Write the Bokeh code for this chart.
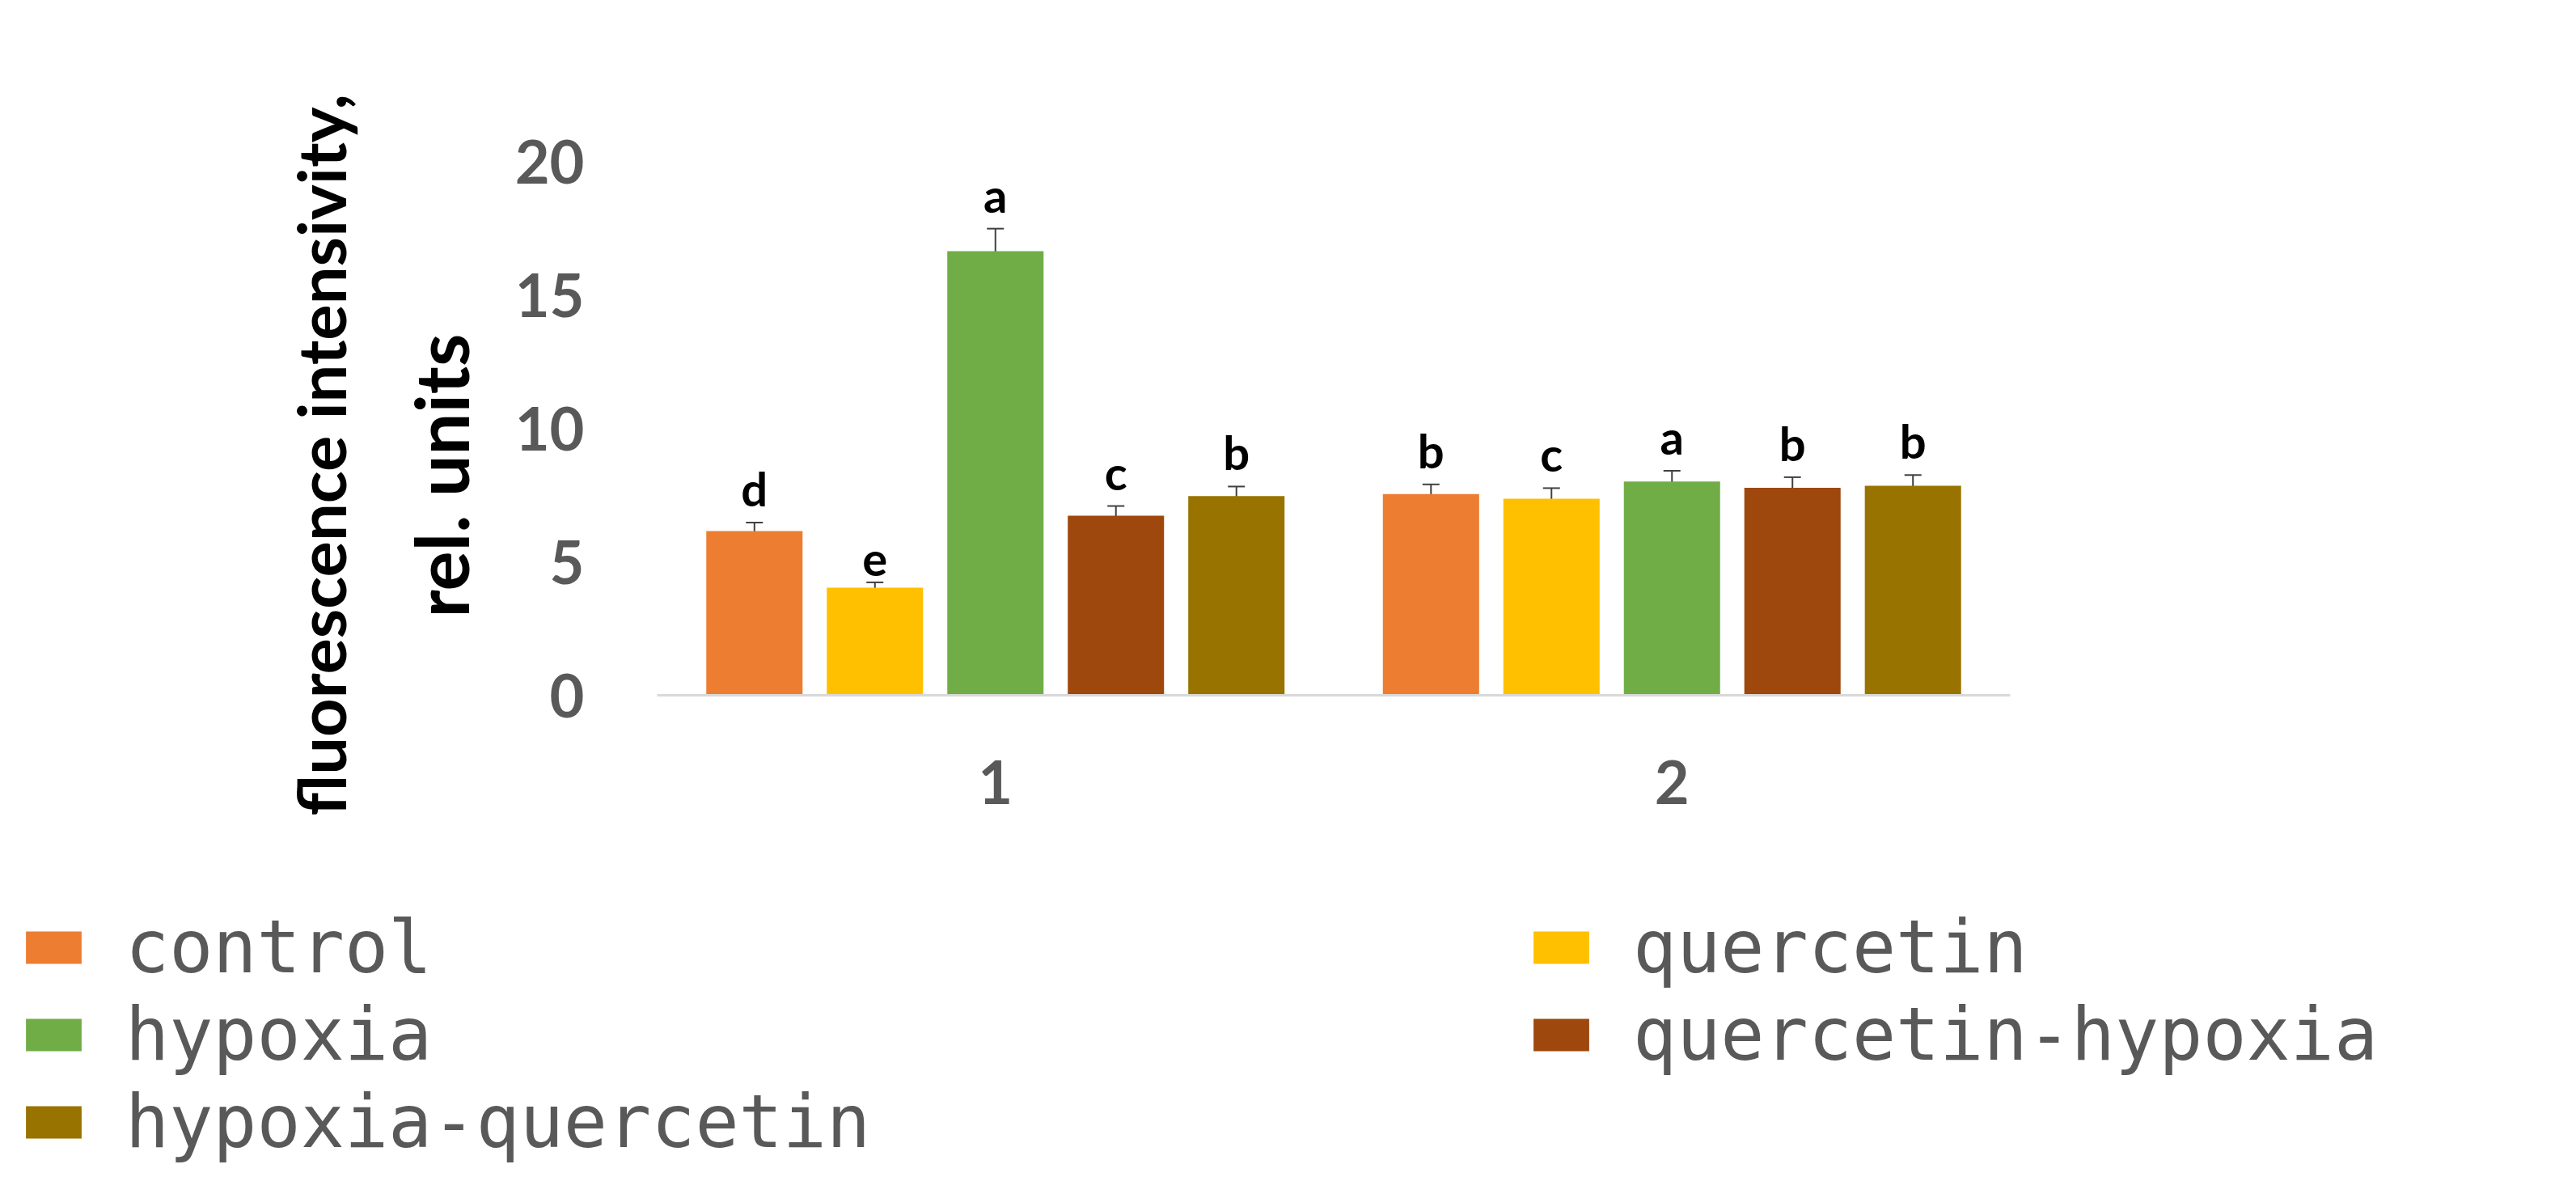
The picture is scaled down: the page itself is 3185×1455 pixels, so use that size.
from bokeh.plotting import figure
from bokeh.models import (ColumnDataSource, FactorRange, Range1d, FixedTicker, Whisker,
                          TeeHead, Legend, LegendItem, Title)
from bokeh.layouts import column, row
from bokeh.transform import dodge
from bokeh.core.properties import value
from bokeh.embed import file_html
from bokeh.resources import INLINE

# ---------------- data ----------------
groups = ["1", "2"]
treatments = ["control", "quercetin", "hypoxia", "quercetin-hypoxia", "hypoxia-quercetin"]
colors = ["#ED7D31", "#FFC000", "#70AD47", "#9E480E", "#997300"]

# values per treatment: [group 1, group 2]
means = {
    "control":           [6.15, 7.54],
    "quercetin":         [4.03, 7.36],
    "hypoxia":           [16.64, 8.01],
    "quercetin-hypoxia": [6.73, 7.77],
    "hypoxia-quercetin": [7.46, 7.85],
}
errors = {
    "control":           [0.32, 0.36],
    "quercetin":         [0.20, 0.40],
    "hypoxia":           [0.84, 0.40],
    "quercetin-hypoxia": [0.36, 0.40],
    "hypoxia-quercetin": [0.36, 0.40],
}
letters = {
    "control":           ["d", "b"],
    "quercetin":         ["e", "c"],
    "hypoxia":           ["a", "a"],
    "quercetin-hypoxia": ["c", "b"],
    "hypoxia-quercetin": ["b", "b"],
}
y_ticks = [0, 5, 10, 15, 20]
y_label_1 = "fluorescence intensivity,"
y_label_2 = "rel. units"

# ---------------- main figure ----------------
W = 3169
H_MAIN, H_LEG = 1080, 359
p = figure(width=W, height=H_MAIN, output_backend="svg", toolbar_location=None,
           x_range=FactorRange(*groups, range_padding=0), y_range=Range1d(0, 20),
           min_border_left=812, min_border_right=684, min_border_top=199, min_border_bottom=221)
p.outline_line_color = None
p.xgrid.grid_line_color = None
p.ygrid.grid_line_color = None

step = 0.1781
bar_w = 0.1423
sources = []
for i, t in enumerate(treatments):
    m = means[t]
    e = errors[t]
    src = ColumnDataSource(dict(
        group=groups,
        val=m,
        upper=[a + b for a, b in zip(m, e)],
        lower=[a - b for a, b in zip(m, e)],
        letter=letters[t],
    ))
    sources.append(src)
    off = (i - 2) * step
    p.vbar(x=dodge("group", off, range=p.x_range), top="val", bottom=0, width=bar_w,
           source=src, fill_color=colors[i], line_color=None)
    w = Whisker(source=src, base=dodge("group", off, range=p.x_range), upper="upper", lower="lower",
                line_color="#404040", line_width=2,
                upper_head=TeeHead(size=21, line_color="#404040", line_width=2),
                lower_head=TeeHead(size=21, line_color="#404040", line_width=2))
    p.add_layout(w)
    p.text(x=dodge("group", off, range=p.x_range), y="upper", text="letter", source=src,
           text_align="center", text_baseline="bottom", y_offset=-8,
           text_font=value("Lato"), text_font_style="bold", text_font_size="58px",
           text_color="black")

# axes
p.yaxis.ticker = FixedTicker(ticks=y_ticks)
p.yaxis.axis_line_color = None
p.yaxis.major_tick_line_color = None
p.yaxis.minor_tick_line_color = None
p.yaxis.major_label_text_font = "Lato"
p.yaxis.major_label_text_font_style = "bold"
p.yaxis.major_label_text_font_size = "74px"
p.yaxis.major_label_text_color = "#595959"
p.yaxis.major_label_standoff = 84

p.xaxis.axis_line_color = "#d9d9d9"
p.xaxis.axis_line_width = 3
p.xaxis.major_tick_line_color = None
p.xaxis.minor_tick_line_color = None
p.xaxis.major_label_text_font = "Lato"
p.xaxis.major_label_text_font_style = "bold"
p.xaxis.major_label_text_font_size = "74px"
p.xaxis.major_label_text_color = "#595959"
p.xaxis.major_label_standoff = 74

# y axis title as two lines (nearest line first); aligned from the bottom of the frame
t2 = Title(text=y_label_2, align="left", offset=96, standoff=68,
           text_font="Lato", text_font_style="bold", text_font_size="92px", text_color="black")
p.add_layout(t2, "left")
t1 = Title(text=y_label_1, align="left", offset=-149, standoff=14,
           text_font="Lato", text_font_style="bold", text_font_size="83px", text_color="black")
p.add_layout(t1, "left")

# ---------------- legend figure (same data, renderers hidden) ----------------
lf = figure(width=W, height=H_LEG, output_backend="svg", toolbar_location=None,
            x_range=FactorRange(*groups), y_range=Range1d(100, 101),
            x_axis_type=None, y_axis_type=None,
            min_border_left=0, min_border_right=0, min_border_top=0, min_border_bottom=0)
lf.outline_line_color = None
lf.xgrid.grid_line_color = None
lf.ygrid.grid_line_color = None

leg_renderers = []
for i, t in enumerate(treatments):
    r = lf.vbar(x="group", top="val", bottom=0, width=bar_w, source=sources[i],
                fill_color=colors[i], line_color=None)
    r.visible = False
    leg_renderers.append(r)

order = [0, 2, 4, 1, 3]
legend = Legend(items=[LegendItem(label=treatments[k], renderers=[leg_renderers[k]]) for k in order],
                location=(23, 0), orientation="vertical", nrows=3,
                label_text_font="DejaVu Sans Mono", label_text_font_size="90px",
                label_text_color="#595959",
                glyph_width=86, glyph_height=50, label_standoff=46, spacing=3, label_width=1729,
                inactive_fill_alpha=0,
                padding=0, margin=0, border_line_color=None, background_fill_alpha=0)
lf.add_layout(legend, "center")

layout = column(p, row(lf), spacing=0)
open("out.html", "w").write(file_html(layout, INLINE))
